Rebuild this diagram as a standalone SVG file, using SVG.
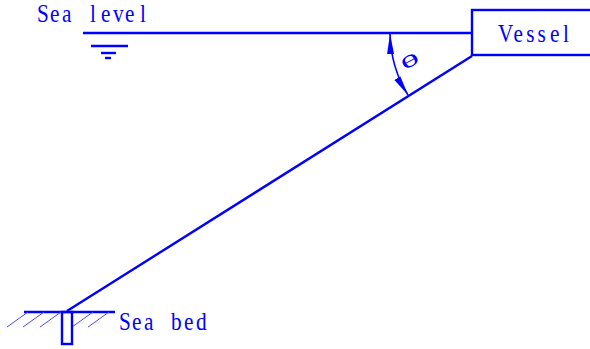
<svg xmlns="http://www.w3.org/2000/svg" width="590" height="349" viewBox="0 0 590 349">
<defs>
<style>
.l{fill:none;stroke:#0000ff;stroke-width:2.4}
.t{fill:none;stroke:#0000ff;stroke-width:1.6}
.h{fill:none;stroke:#4a4aff;stroke-width:1}
.x{fill:#0000ff;font-family:"Liberation Serif",serif;font-size:25px}
.g{fill:#0000ff;font-family:"Liberation Sans",sans-serif;font-size:20px}
</style>
<marker id="a" viewBox="0 0 20 8" refX="20" refY="4" markerWidth="20" markerHeight="8" markerUnits="userSpaceOnUse" orient="auto-start-reverse"><path d="M0 .5L20 4L0 7.5z" fill="#0000ff"/></marker>
</defs>
<g id="connectors">
<path class="l" d="M83 33H472"/>
<path class="l" d="M472 56L67 311"/>
<path class="t" d="M390 34Q391 68 408 95" marker-start="url(#a)" marker-end="url(#a)"/>
</g>
<g id="sea-level">
<text class="x" transform="scale(.85 1)" y="22" x="43.5 58.8 73 0 105.9 118.8 133 147 164.7">Sea level</text>
<path class="l" d="M91 46H128"/>
<path class="l" d="M101 53H116"/>
<path class="l" d="M105 58H111"/>
</g>
<g id="vessel">
<rect class="l" x="472" y="10" width="120" height="45"/>
<text class="x" transform="scale(.85 1)" y="42" x="586 604 619 632.5 647 662.5">Vessel</text>
</g>
<g id="angle">
<text class="g" transform="translate(410 61) rotate(-28) scale(1.7 .8)" text-anchor="middle" y="7" x="0">θ</text>
</g>
<g id="sea-bed">
<path class="l" d="M24 312H115"/>
<path class="h" d="M7 327L28 312M23 327L44 312M40 327L61 312M72 327L93 312M88 327L109 312"/>
<rect class="l" x="62" y="312" width="10" height="32"/>
<text class="x" transform="scale(.85 1)" y="330" x="140 155.3 169.4 0 201.2 216.5 230.6">Sea bed</text>
</g>
</svg>
